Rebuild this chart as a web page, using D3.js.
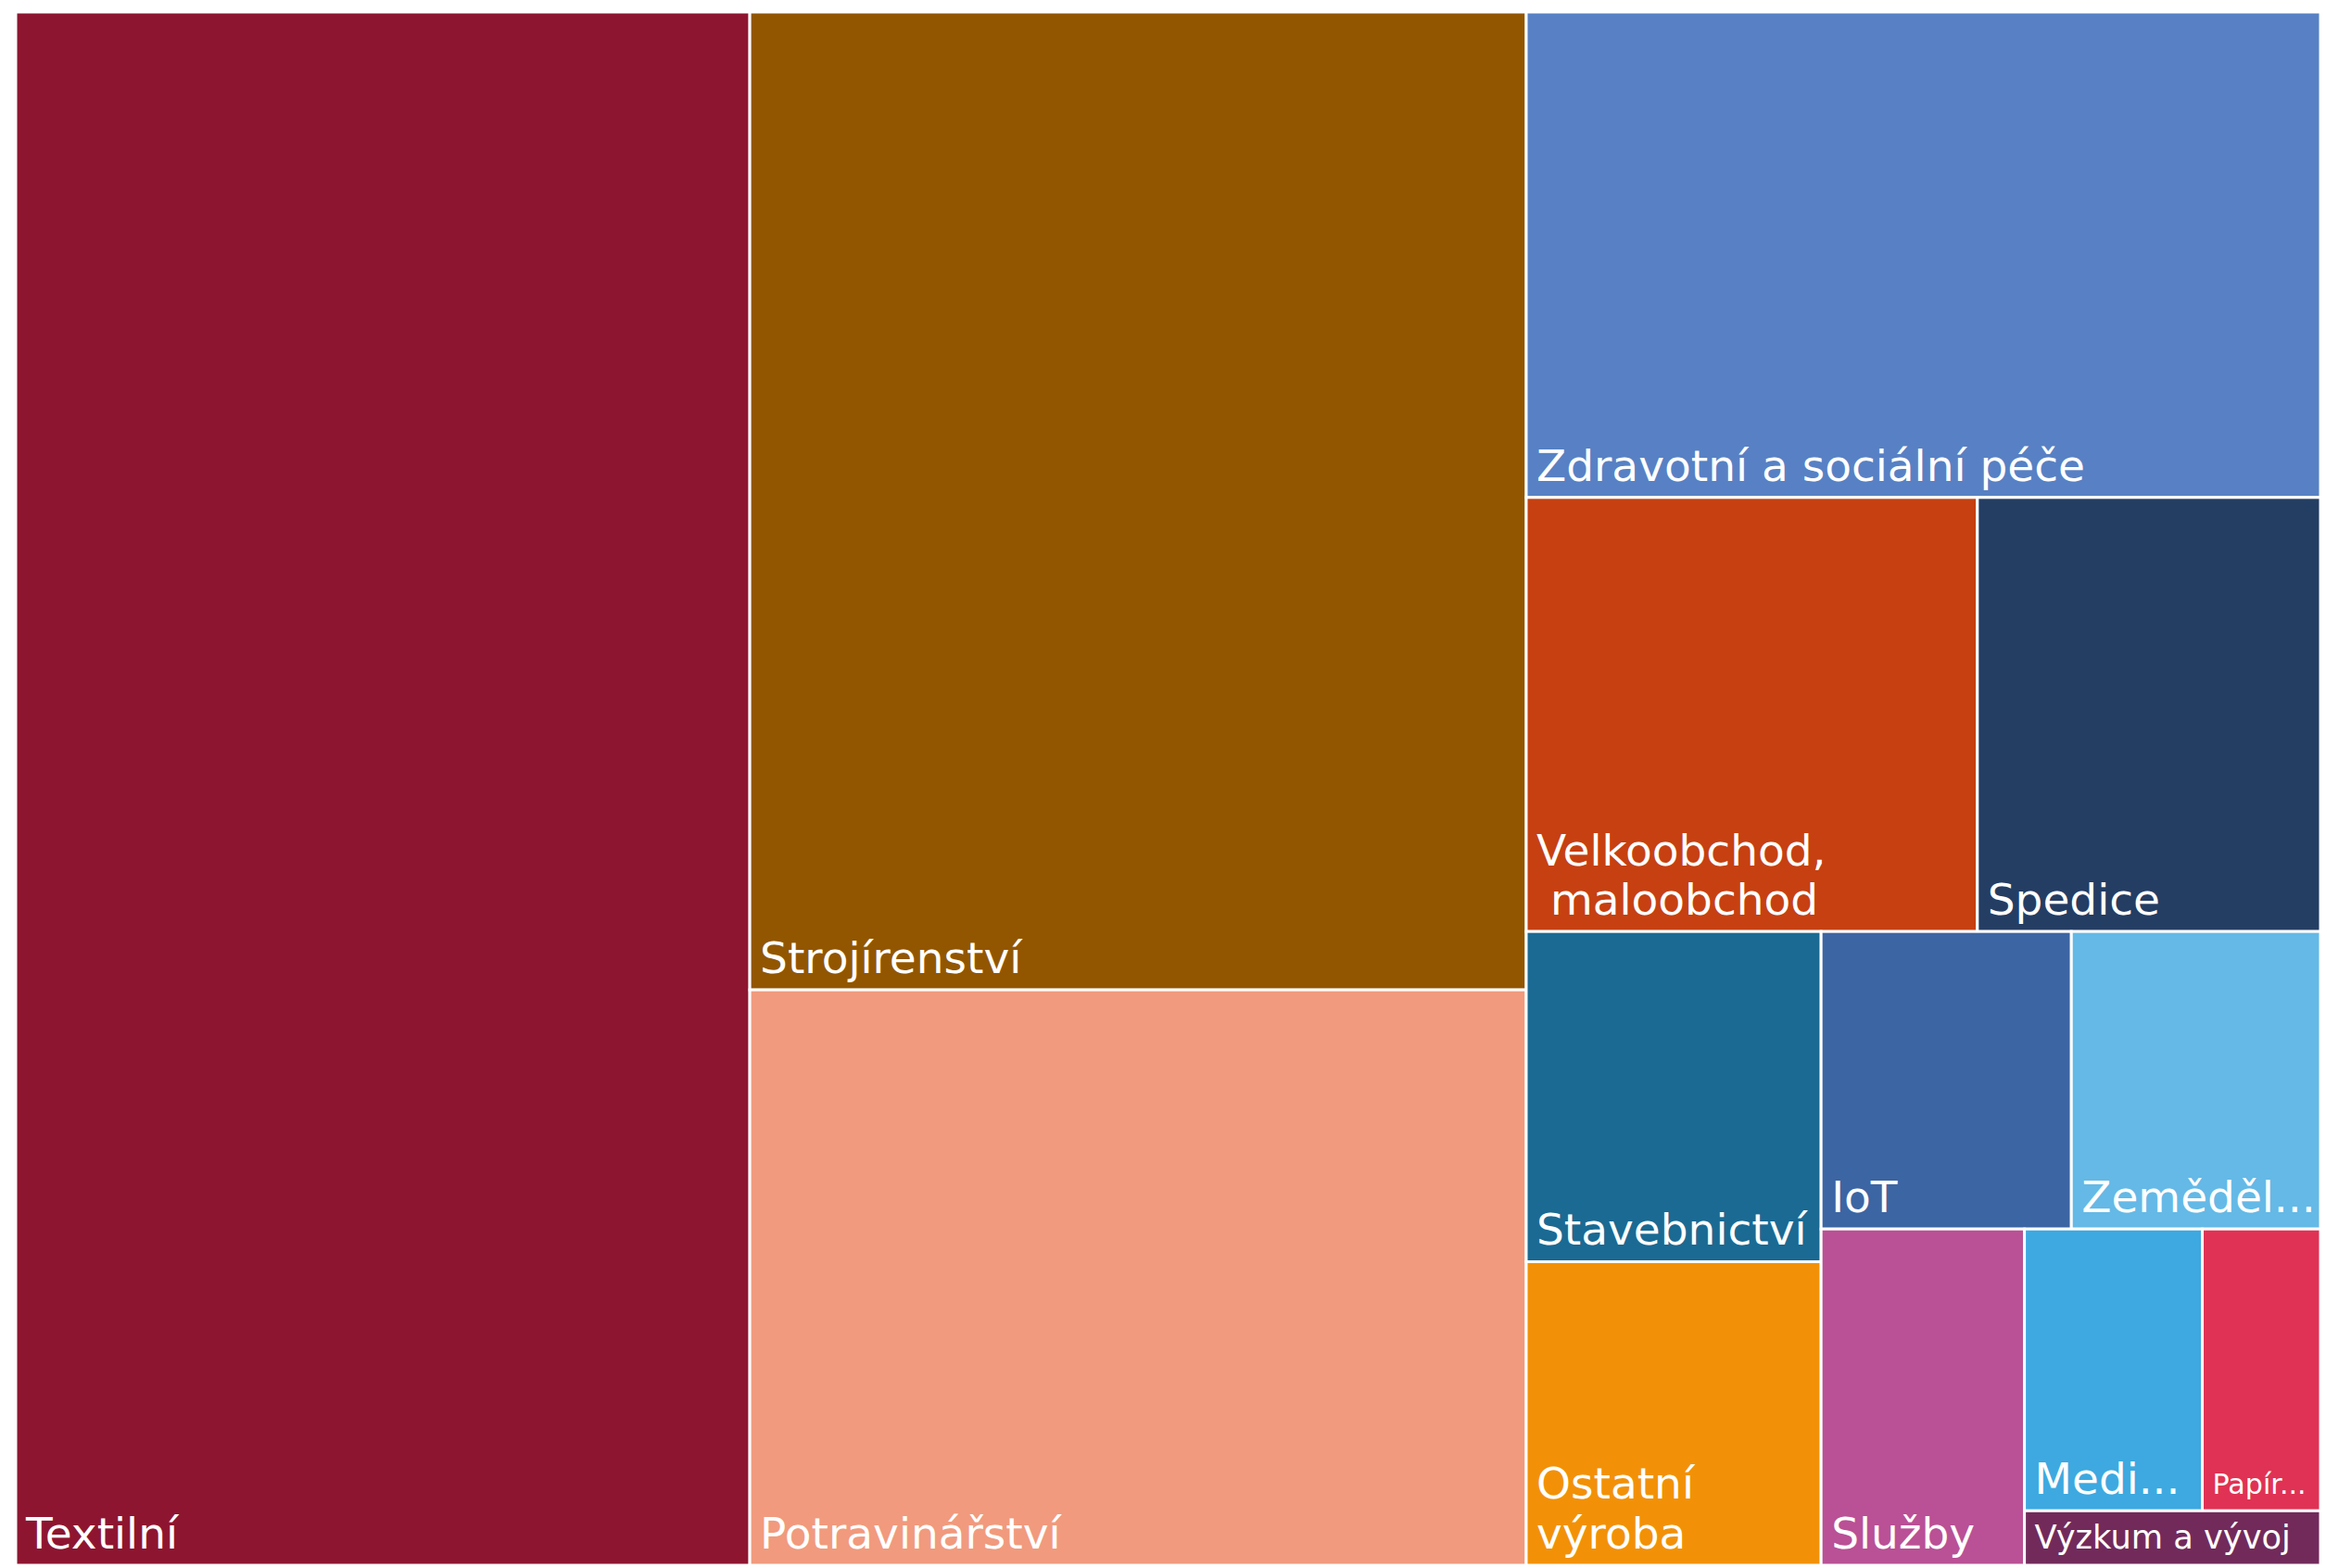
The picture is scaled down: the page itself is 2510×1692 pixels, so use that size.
<!DOCTYPE html>
<html>
<head>
<meta charset="utf-8">
<script src="https://cdn.jsdelivr.net/npm/d3@7"></script>
<style>
  body { margin: 0; background: #fff; }
  .treemap text { font-family: "DejaVu Sans", Verdana, sans-serif; fill: #fff; white-space: pre; }
</style>
</head>
<body>
<div class="treemap"></div>
<script>
// sectors (line breaks as printed), their share (%) and tile colour
const sectors = ["Textilní", "Strojírenství", "Potravinářství", "Zdravotní a sociální péče",
    "Velkoobchod,\n maloobchod", "Spedice", "Stavebnictví", "Ostatní\nvýroba", "IoT",
    "Zemědělství", "Služby", "Medicína", "Papírenství", "Výzkum a vývoj"];
const shares = [31.85, 21.21, 12.48, 10.77, 5.47, 4.16, 2.72, 2.50, 2.08, 2.07, 1.91, 1.40, 0.93, 0.45];
const colors = ["#8e1530", "#925600", "#f19a7d", "#5781c4", "#c64011", "#243d63", "#1a6a93",
    "#f29107", "#3c65a3", "#64b9e6", "#ba5095", "#3da9e0", "#e03254", "#722a5b"];
// number of tiles placed in each strip, in layout order
const strips = [1, 2, 1, 2, 2, 2, 1, 2, 1];

const margin = {top: 13, right: 6, bottom: 3, left: 17},
    width = 2510 - margin.left - margin.right,
    height = 1692 - margin.top - margin.bottom;

// strip tiling: every strip runs along the shorter side of what is left
function stripTile(parent, x0, y0, x1, y1) {
    const nodes = parent.children;
    let value = parent.value, i = 0;
    for (const n of strips) {
        const kids = nodes.slice(i, i + n);
        if (!kids.length) break;
        const row = {children: kids, value: d3.sum(kids, d => d.value)};
        const dx = x1 - x0, dy = y1 - y0;
        if (dx < dy) {
            const yy = y0 + dy * row.value / value;
            d3.treemapDice(row, x0, y0, x1, yy);
            y0 = yy;
        } else {
            const xx = x0 + dx * row.value / value;
            d3.treemapSlice(row, x0, y0, xx, y1);
            x0 = xx;
        }
        value -= row.value;
        i += n;
    }
}

const data = {name: "root", children: sectors.map((s, i) => ({name: s, value: shares[i], color: colors[i]}))};
const root = d3.hierarchy(data).sum(d => d.value || 0);
d3.treemap().tile(stripTile).size([width, height])(root);

const svg = d3.select(".treemap").append("svg")
    .attr("width", width + margin.left + margin.right)
    .attr("height", height + margin.top + margin.bottom)
    .append("g")
    .attr("transform", `translate(${margin.left}, ${margin.top})`);

const cell = svg.selectAll("g")
    .data(root.leaves())
    .join("g")
    .attr("transform", d => `translate(${d.x0}, ${d.y0})`);

cell.append("rect")
    .attr("width", d => d.x1 - d.x0)
    .attr("height", d => d.y1 - d.y0)
    .attr("fill", d => d.data.color)
    .attr("stroke", "#fff")
    .attr("stroke-width", 3);

// label in the bottom left corner: shrink or cut it so it fits
cell.each(function(d) {
    const w = d.x1 - d.x0, h = d.y1 - d.y0, padX = 11, padY = 18;
    const avail = w - padX - 2;
    let fs = Math.min(47, w * 0.26 - 3, h * 0.6);
    const t = d3.select(this).append("text").attr("font-size", fs);
    const measure = s => { t.text(s); return t.node().getComputedTextLength(); };
    let lines = d.data.name.split("\n");
    if (lines.length === 1 && measure(lines[0]) > avail) {
        const name = lines[0];
        if (name.includes(" ")) {
            fs = fs * (w - 2 * padX) / measure(name);
            t.attr("font-size", fs);
        } else {
            let s = name;
            while (s.length > 1 && measure(s + "...") > avail) s = s.slice(0, -1);
            lines = [s + "..."];
        }
    }
    t.text(null);
    lines.forEach((ln, k) => {
        t.append("tspan")
            .attr("x", padX)
            .attr("y", h - padY - (lines.length - 1 - k) * fs * 1.14)
            .text(ln);
    });
});
</script>
</body>
</html>
